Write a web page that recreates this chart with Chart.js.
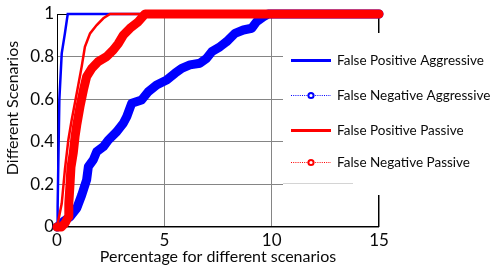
<!DOCTYPE html>
<html>
<head>
<meta charset="utf-8">
<script src="https://cdn.jsdelivr.net/npm/chart.js@4/dist/chart.umd.min.js"></script>
<style>
  html, body { margin: 0; padding: 0; background: #fff; }
  #wrap { width: 492px; height: 268px; position: relative; }
</style>
</head>
<body>
<div id="wrap"><canvas id="canvas" width="492" height="268"></canvas></div>
<script>
/* values */
var legendLabels = ["False Positive Aggressive", "False Negative Aggressive", "False Positive Passive", "False Negative Passive"];
var xTitle = "Percentage for different scenarios";
var yTitle = "Different Scenarios";
var xTicks = [0, 5, 10, 15];
var yTicks = [0, 0.2, 0.4, 0.6, 0.8, 1];

var fpaX = [0, 0.03, 0.11, 0.22, 0.37, 0.5, 15];
var fpaY = [0, 0.1, 0.6, 0.815, 0.91, 1, 1];

var fnaX = [0, 0.14, 0.35, 0.61, 0.92, 1.15, 1.38, 1.46, 1.69, 1.85, 2.16, 2.39, 2.78, 3.09, 3.25, 3.48, 3.94, 4.25, 4.64, 5.11, 5.5, 5.81, 6.19, 6.66, 6.97, 7.21, 7.59, 7.9, 8.29, 8.68, 9.07, 9.3, 9.61, 9.84, 15];
var fnaY = [0, 0.01, 0.03, 0.048, 0.088, 0.15, 0.221, 0.283, 0.315, 0.354, 0.377, 0.408, 0.447, 0.487, 0.518, 0.581, 0.596, 0.635, 0.667, 0.69, 0.722, 0.745, 0.761, 0.769, 0.792, 0.823, 0.846, 0.87, 0.909, 0.925, 0.933, 0.964, 0.987, 1, 1];

var fppX = [0, 0.22, 0.37, 0.53, 0.68, 0.92, 1.15, 1.3, 1.54, 1.85, 2.16, 2.47, 15];
var fppY = [0, 0.11, 0.27, 0.41, 0.5, 0.628, 0.753, 0.846, 0.909, 0.948, 0.98, 1, 1];

var fnpX = [0, 0.2, 0.37, 0.53, 0.55, 0.6, 0.65, 0.76, 0.84, 0.92, 1.07, 1.23, 1.38, 1.62, 1.92, 2.31, 2.62, 2.86, 3.09, 3.4, 3.79, 4.1, 15];
var fnpY = [0, 0, 0.017, 0.048, 0.11, 0.19, 0.28, 0.35, 0.424, 0.479, 0.565, 0.643, 0.706, 0.745, 0.776, 0.8, 0.831, 0.862, 0.901, 0.933, 0.964, 1, 1];

var BLUE = "#0000ff", RED = "#ff0000", INK = "#0a0a0a";

function pts(xs, ys) {
  var out = [];
  for (var i = 0; i < xs.length; i++) out.push({x: xs[i], y: ys[i]});
  return out;
}

/* axes box like matlab: all four sides, plus the y title */
var boxPlugin = {
  id: "box",
  beforeDatasetsDraw: function(chart) {
    var a = chart.chartArea, ctx = chart.ctx;
    ctx.save();
    ctx.strokeStyle = "#000";
    ctx.lineWidth = 1;
    ctx.strokeRect(Math.round(a.left) + 0.5, Math.round(a.top) + 0.5, Math.round(a.right - a.left) - 1, Math.round(a.bottom - a.top) - 1);
    // y title sits a bit above the middle of the axis, as in the source
    ctx.translate(13, 108);
    ctx.rotate(-Math.PI / 2);
    ctx.fillStyle = INK;
    ctx.font = "16px Lato";
    ctx.textAlign = "center";
    ctx.textBaseline = "middle";
    ctx.fillText(yTitle, 0, 0);
    ctx.restore();
  }
};

/* legend drawn by hand: solid line, or dotted line with a circle */
var legendPlugin = {
  id: "handLegend",
  afterDatasetsDraw: function(chart) {
    var ctx = chart.ctx;
    var rows = [
      {y: 60, color: BLUE, dotted: false},
      {y: 95, color: BLUE, dotted: true},
      {y: 130, color: RED, dotted: false},
      {y: 162, color: RED, dotted: true}
    ];
    ctx.save();
    ctx.fillStyle = "#fff";
    ctx.fillRect(283, 33, 209, 162);
    // the faint tail of the 0.2 grid line under the legend box
    ctx.strokeStyle = "#d4d4d4";
    ctx.lineWidth = 1;
    ctx.beginPath();
    ctx.moveTo(283, 183.5);
    ctx.lineTo(353, 183.5);
    ctx.stroke();
    for (var i = 0; i < rows.length; i++) {
      var r = rows[i];
      ctx.strokeStyle = r.color;
      ctx.beginPath();
      if (r.dotted) {
        ctx.lineWidth = 1;
        ctx.setLineDash([1, 1.2]);
      } else {
        ctx.lineWidth = 3;
        ctx.setLineDash([]);
      }
      ctx.moveTo(291, r.y + 0.5);
      ctx.lineTo(331, r.y + 0.5);
      ctx.stroke();
      ctx.setLineDash([]);
      if (r.dotted) {
        ctx.lineWidth = 2;
        ctx.fillStyle = "#fff";
        ctx.beginPath();
        ctx.arc(311, r.y + 0.5, 2.6, 0, Math.PI * 2);
        ctx.fill();
        ctx.stroke();
      }
      ctx.fillStyle = INK;
      ctx.font = "13.5px Lato";
      ctx.textBaseline = "middle";
      ctx.textAlign = "left";
      ctx.fillText(legendLabels[i], 337, r.y + 1);
    }
    ctx.restore();
  }
};

var chartData = {
  datasets: [
    {label: legendLabels[0], data: pts(fpaX, fpaY), borderColor: BLUE, borderWidth: 2.5, pointRadius: 0, order: 4, clip: false},
    {label: legendLabels[1], data: pts(fnaX, fnaY), borderColor: BLUE, borderWidth: 9, borderCapStyle: "round", borderJoinStyle: "round", pointRadius: 0, order: 3, clip: false},
    {label: legendLabels[2], data: pts(fppX, fppY), borderColor: RED, borderWidth: 2.5, pointRadius: 0, order: 2, clip: false},
    {label: legendLabels[3], data: pts(fnpX, fnpY), borderColor: RED, borderWidth: 9, borderCapStyle: "round", borderJoinStyle: "round", pointRadius: 0, order: 1, clip: false}
  ]
};

var options = {
  responsive: false,
  animation: false,
  events: [],
  layout: {padding: {left: 0, right: 113, top: 14, bottom: 0}},
  plugins: {legend: {display: false}, tooltip: {enabled: false}},
  scales: {
    x: {
      type: "linear", min: 0, max: 15,
      afterFit: function(scale) { scale.height = 41; },
      afterBuildTicks: function(scale) { scale.ticks = xTicks.map(function(v) { return {value: v}; }); },
      grid: {color: "#858585", drawTicks: false},
      border: {display: false},
      ticks: {color: INK, padding: 3, maxRotation: 0, font: {family: "Lato", size: 17}},
      title: {display: true, text: xTitle, color: INK, padding: {top: 0, bottom: 2}, font: {family: "Lato", size: 16}}
    },
    y: {
      type: "linear", min: 0, max: 1,
      afterFit: function(scale) { scale.width = 57; },
      afterBuildTicks: function(scale) { scale.ticks = yTicks.map(function(v) { return {value: v}; }); },
      grid: {color: "#858585", drawTicks: false},
      border: {display: false},
      ticks: {color: INK, padding: 3, font: {family: "Lato", size: 17}, callback: function(v) { return String(v); }},
      title: {display: false}
    }
  }
};

var myChart = new Chart(document.getElementById("canvas").getContext("2d"), {
  type: "line",
  data: chartData,
  options: options,
  plugins: [boxPlugin, legendPlugin]
});
</script>
</body>
</html>
